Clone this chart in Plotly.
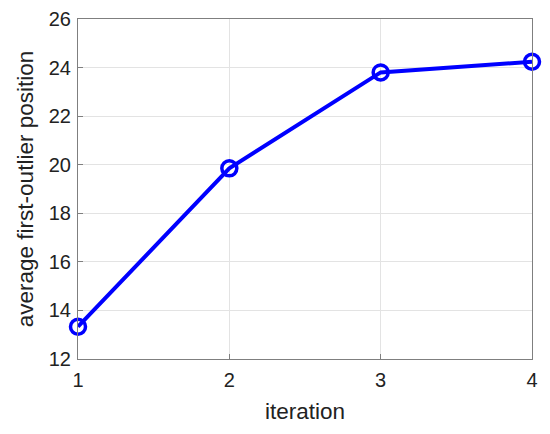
import plotly.graph_objects as go

iterations = [1, 2, 3, 4]
avg_first_outlier = [13.33, 19.85, 23.8, 24.24]
x_ticks = [1, 2, 3, 4]
y_ticks = [12, 14, 16, 18, 20, 22, 24, 26]

fig = go.Figure()
fig.add_trace(go.Scatter(
    x=iterations, y=avg_first_outlier, mode="lines+markers",
    line=dict(color="#0000ff", width=4),
    marker=dict(symbol="circle-open", size=15, color="#0000ff", line=dict(width=3.5, color="#0000ff")),
    cliponaxis=False,
))

axis_common = dict(
    showgrid=True, gridcolor="#e3e3e3", gridwidth=1,
    showline=True, linecolor="#7f7f7f", linewidth=1, mirror=True,
    ticks="inside", ticklen=5, tickcolor="#7f7f7f",
    tickfont=dict(family="Liberation Sans, Arial, sans-serif", size=20, color="#222222"),
    zeroline=False, automargin=False,
)

# the page body has an 8px default margin; compensate so the plot area sits at x 78-532, y 19-359
fig.update_layout(
    width=542, height=426,
    margin=dict(l=70, r=18, t=11, b=75),
    paper_bgcolor="white", plot_bgcolor="white",
    showlegend=False,
    font=dict(family="Liberation Sans, Arial, sans-serif", color="#222222"),
    xaxis=dict(axis_common, range=[1, 4], tickvals=x_ticks, ticklabelstandoff=3,
               title=dict(text="iteration", font=dict(size=22.5), standoff=13)),
    yaxis=dict(axis_common, range=[12, 26], tickvals=y_ticks, ticklabelstandoff=2,
               title=dict(text="average first-outlier position", font=dict(size=22.5), standoff=8)),
)

fig.write_html("out.html")
